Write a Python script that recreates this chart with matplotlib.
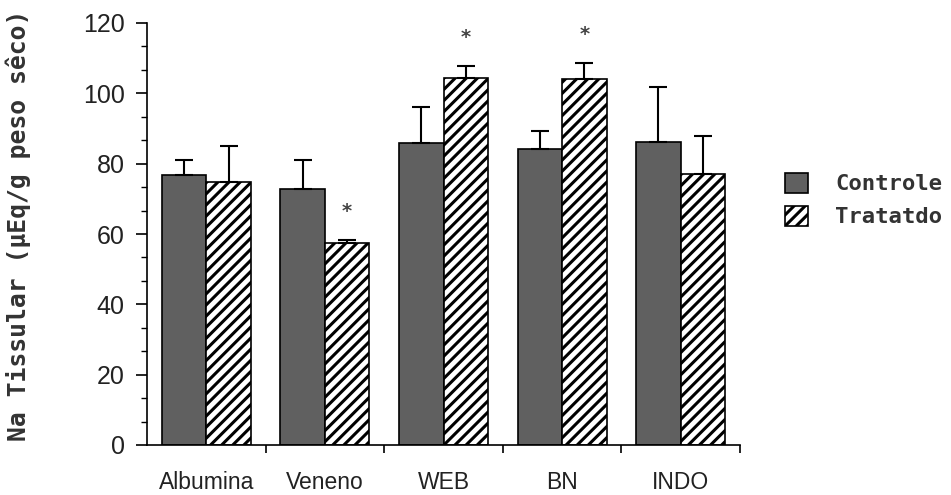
import numpy as np
import matplotlib
matplotlib.use('Agg')
import matplotlib.pyplot as plt
from matplotlib.ticker import MultipleLocator, FixedLocator

# dados
categorias = ['Albumina', 'Veneno', 'WEB', 'BN', 'INDO']
controle = [76.8, 72.8, 85.8, 84.2, 86.2]
controle_err = [4.2, 8.2, 10.4, 5.2, 15.5]
tratado = [74.9, 57.3, 104.4, 104.2, 77.2]
tratado_err = [10.1, 1.0, 3.5, 4.5, 10.7]
significativo = [False, True, True, True, False]

plt.rcParams['hatch.linewidth'] = 2.2

fig = plt.figure(figsize=(9.51, 4.95), dpi=100)
ax = fig.add_axes([147 / 951, 50 / 495, 593 / 951, 422 / 495])

x = np.arange(len(categorias))
w = 0.375

ax.bar(x - w / 2, controle, w, color='#606060', edgecolor='black', linewidth=1.2,
       label='Controle', zorder=2)
ax.bar(x + w / 2, tratado, w, color='white', edgecolor='black', linewidth=1.2,
       hatch='///', label='Tratatdo', zorder=2)

# barras de erro só para cima
ax.errorbar(x - w / 2, controle, yerr=[np.zeros(len(x)), controle_err], fmt='none',
            ecolor='black', elinewidth=1.5, capsize=6.5, capthick=1.5, zorder=3)
ax.errorbar(x + w / 2, tratado, yerr=[np.zeros(len(x)), tratado_err], fmt='none',
            ecolor='black', elinewidth=1.5, capsize=6.5, capthick=1.5, zorder=3)

# asteriscos de significância
for i, sig in enumerate(significativo):
    if sig:
        ax.text(x[i] + w / 2, tratado[i] + tratado_err[i] + 8, '*', ha='center',
                va='center', fontsize=14, fontweight='bold', color='#444444')

ax.set_xlim(-0.5, len(categorias) - 0.5)
ax.set_ylim(0, 120)

ax.set_yticks(np.arange(0, 121, 20))
ax.yaxis.set_minor_locator(MultipleLocator(20 / 3))
ax.tick_params(axis='y', which='major', length=8, width=1.2, pad=8,
               labelsize=18, labelcolor='#222222')
ax.tick_params(axis='y', which='minor', length=4, width=1.0)
for t in ax.get_yticklabels():
    t.set_fontfamily('Liberation Sans')

ax.set_xticks(x)
ax.set_xticklabels(categorias, fontfamily='Liberation Sans', fontsize=16.5,
                   color='#222222')
ax.xaxis.set_minor_locator(FixedLocator(np.arange(0.5, len(categorias), 1)))
ax.tick_params(axis='x', which='major', length=0, pad=19)
ax.tick_params(axis='x', which='minor', length=6, width=1.2)

ax.spines['top'].set_visible(False)
ax.spines['right'].set_visible(False)
ax.spines['left'].set_linewidth(1.2)
ax.spines['bottom'].set_linewidth(1.2)

fig.text(18 / 951, 1 - 225 / 495, 'Na Tissular (\u00b5Eq/g peso s\u00eaco)', rotation=90,
         ha='center', va='center', fontfamily='DejaVu Sans Mono', fontweight='bold',
         fontsize=17.8, color='#333333')

leg = fig.legend(loc='center left', bbox_to_anchor=(785 / 951, 1 - 200 / 495),
                 frameon=False, borderpad=0, borderaxespad=0,
                 handlelength=1.05, handleheight=1.05, handletextpad=1.2,
                 labelspacing=0.5,
                 prop={'family': 'DejaVu Sans Mono', 'weight': 'bold', 'size': 16})
for t in leg.get_texts():
    t.set_color('#333333')

fig.savefig('out.png', dpi=100)
